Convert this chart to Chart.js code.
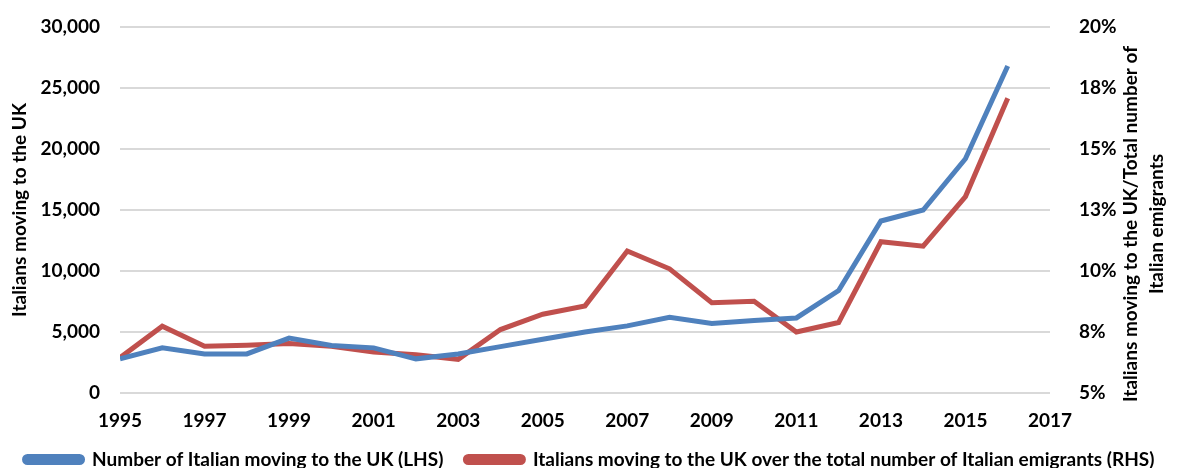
<!DOCTYPE html>
<html>
<head>
    <title>Italians moving to the UK</title>
    <script src="https://cdn.jsdelivr.net/npm/chart.js"></script>
    <style>
        html, body { margin: 0; padding: 0; background: #fff; }
        #wrap { width: 1179px; height: 468px; }
    </style>
</head>
<body>
    <div id="wrap">
        <canvas id="ukChart"></canvas>
    </div>
    <script>
        // Years and series
        const years = [1995, 1996, 1997, 1998, 1999, 2000, 2001, 2002, 2003, 2004, 2005,
                       2006, 2007, 2008, 2009, 2010, 2011, 2012, 2013, 2014, 2015, 2016];
        const italiansToUK = [2800, 3700, 3200, 3200, 4500, 3900, 3700, 2800, 3200, 3800, 4400,
                              5000, 5500, 6200, 5700, 5950, 6150, 8400, 14100, 15000, 19200, 26800];
        const shareOfEmigrants = [6.45, 7.74, 6.92, 6.96, 7.03, 6.92, 6.68, 6.57, 6.38, 7.6, 8.23,
                                  8.57, 10.82, 10.09, 8.7, 8.76, 7.5, 7.89, 11.2, 11.02, 13.05, 17.08];
        const xTicks = [1995, 1997, 1999, 2001, 2003, 2005, 2007, 2009, 2011, 2013, 2015, 2017];
        const rightTitle = ['Italians moving to the UK/Total number of', 'Italian emigrants'];

        const blue = '#4F81BD';
        const red = '#C0504D';
        const fontFamily = 'Lato, "Open Sans", sans-serif';

        Chart.defaults.font.family = fontFamily;
        Chart.defaults.font.weight = 'bold';
        Chart.defaults.color = '#000';

        // right axis title reads bottom-to-top like the left one, so draw it by hand
        const rightTitlePlugin = {
            id: 'rightTitle',
            afterDraw(chart) {
                const c = chart.ctx;
                const s = chart.scales.y1;
                const cy = (chart.chartArea.top + chart.chartArea.bottom) / 2 + 14;
                c.save();
                c.font = 'bold 19px ' + fontFamily;
                c.fillStyle = '#000';
                c.textAlign = 'center';
                c.textBaseline = 'middle';
                [s.right - 48, s.right - 22].forEach((x, i) => {
                    c.save();
                    c.translate(x, cy);
                    c.rotate(-Math.PI / 2);
                    c.fillText(rightTitle[i], 0, 0);
                    c.restore();
                });
                c.restore();
            }
        };

        // fixed side widths; drop the extra top/bottom room Chart.js adds for tick padding
        const fitSide = (w) => (s) => {
            s.width = w;
            s.paddingTop = 0;
            s.paddingBottom = 0;
        };

        const ctx = document.getElementById('ukChart').getContext('2d');
        new Chart(ctx, {
            type: 'line',
            data: {
                datasets: [{
                    label: 'Number of Italian moving to the UK (LHS)',
                    data: years.map((y, i) => ({ x: y, y: italiansToUK[i] })),
                    borderColor: blue,
                    backgroundColor: blue,
                    borderWidth: 5,
                    pointRadius: 0,
                    tension: 0,
                    yAxisID: 'y'
                }, {
                    label: 'Italians moving to the UK over the total number of Italian emigrants (RHS)',
                    data: years.map((y, i) => ({ x: y, y: shareOfEmigrants[i] })),
                    borderColor: red,
                    backgroundColor: red,
                    borderWidth: 5,
                    pointRadius: 0,
                    tension: 0,
                    yAxisID: 'y1'
                }]
            },
            options: {
                responsive: true,
                maintainAspectRatio: false,
                animation: false,
                layout: { padding: { top: 27, bottom: -11, left: 0, right: 0 } },
                plugins: {
                    legend: {
                        position: 'bottom',
                        labels: {
                            boxWidth: 58,
                            boxHeight: 6,
                            padding: 22,
                            font: { size: 19, weight: 'bold' },
                            useBorderRadius: true,
                            borderRadius: 3
                        }
                    },
                    tooltip: { enabled: false }
                },
                scales: {
                    x: {
                        type: 'linear',
                        min: 1995,
                        max: 2017,
                        afterFit: (s) => { s.height = 35; },
                        grid: { display: false, drawTicks: false },
                        border: { display: false },
                        afterBuildTicks: (axis) => { axis.ticks = xTicks.map(v => ({ value: v })); },
                        ticks: {
                            font: { size: 19, weight: 'bold' },
                            maxRotation: 0,
                            padding: 16,
                            callback: (v) => String(v)
                        }
                    },
                    y: {
                        position: 'left',
                        min: 0,
                        max: 30000,
                        afterFit: fitSide(120),
                        grid: { color: '#d9d9d9', lineWidth: 2, drawTicks: false },
                        border: { display: false },
                        ticks: {
                            stepSize: 5000,
                            padding: 20,
                            font: { size: 19, weight: 'bold' },
                            callback: (v) => v.toLocaleString('en-US')
                        },
                        title: {
                            display: true,
                            text: 'Italians moving to the UK',
                            font: { size: 19, weight: 'bold' },
                            padding: { top: 8, bottom: 0 }
                        }
                    },
                    y1: {
                        position: 'right',
                        min: 5,
                        max: 20,
                        afterFit: fitSide(129),
                        grid: { display: false },
                        border: { display: false },
                        ticks: {
                            stepSize: 2.5,
                            padding: 21,
                            font: { size: 19, weight: 'bold' },
                            callback: (v) => Math.round(v) + '%'
                        }
                    }
                }
            },
            plugins: [rightTitlePlugin]
        });
    </script>
</body>
</html>
